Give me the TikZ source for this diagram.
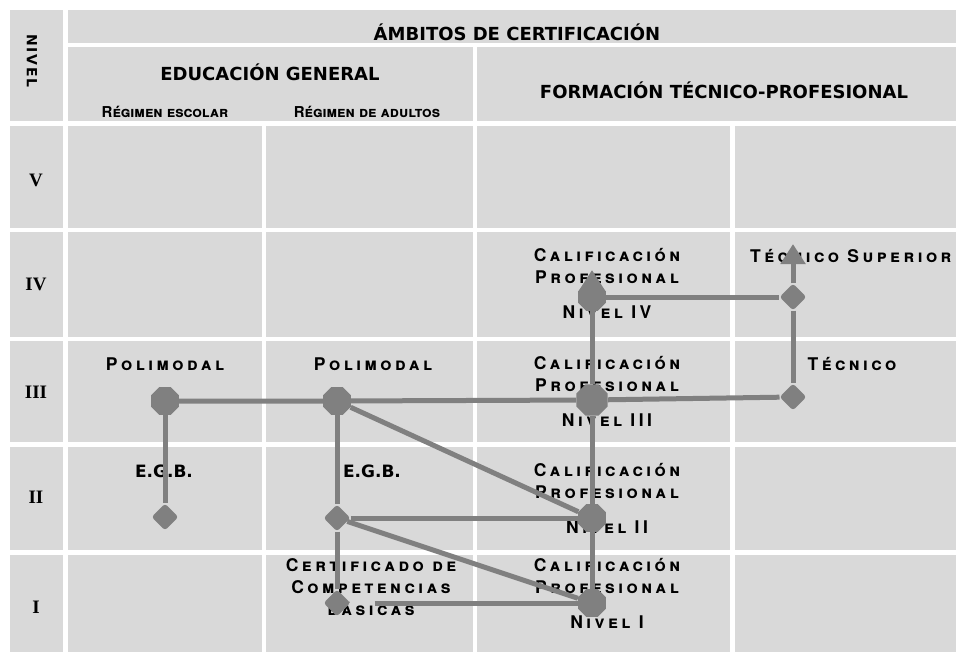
\documentclass[tikz,border=0pt]{standalone}
\usepackage{fontspec}
\setmainfont{TeX Gyre Heros}
\newfontfamily\headfont{DejaVu Sans}
\newfontfamily\levelfont{Liberation Serif}
\newfontfamily\capfont{TeX Gyre Heros}[LetterSpace=20]
\newfontfamily\capfontn{TeX Gyre Heros}
\newfontfamily\nivfont{DejaVu Sans}[LetterSpace=12]
\usepackage{tikz}
\usetikzlibrary{arrows.meta,positioning,shapes.geometric}
\definecolor{cellgray}{HTML}{D9D9D9}
\definecolor{linkgray}{HTML}{808080}
\tikzstyle{cell}=[fill=cellgray]
\tikzstyle{head}=[font=\headfont\bfseries\fontsize{18}{22}\selectfont, anchor=base, inner sep=0pt]
\tikzstyle{lvl}=[font=\levelfont\bfseries\fontsize{19}{22}\selectfont, anchor=base, inner sep=0pt]
\tikzstyle{sclbl}=[font=\capfont\bfseries\scshape\fontsize{17.5}{22}\selectfont, align=center, inner sep=0pt]
\tikzstyle{sub}=[font=\capfontn\bfseries\scshape\fontsize{15}{18}\selectfont, anchor=base, inner sep=0pt]
\tikzstyle{hub}=[regular polygon, regular polygon sides=8, fill=linkgray, inner sep=0pt, minimum size=30pt]
\tikzstyle{knot}=[diamond, fill=linkgray, inner sep=0pt, minimum size=27pt, rounded corners=3pt]
\tikzstyle{link}=[draw=linkgray, line width=5pt]
\tikzstyle{rise}=[link, -{Triangle[width=24pt,length=20pt]}]
\newcommand{\calif}[2]{node (#1)[sclbl, anchor=north]{Calificación\\Profesional\\[13pt]Nivel #2}}
\begin{document}
\begin{tikzpicture}[x=1pt,y=-1pt]
	\useasboundingbox (0,0) rectangle (956,651);
	
	% table cells
	\fill[cell] (10,10) rectangle (63,121);
	\fill[cell] (68,10) rectangle (960,43);
	\fill[cell] (68,47) rectangle (473,121);
	\fill[cell] (477,47) rectangle (960,121);
	\foreach \yt/\yb in {126/228, 232/337, 341/442, 447/550, 555/655}
	\foreach \xl/\xr in {10/63, 68/262, 266/473, 477/730, 735/960}
	\fill[cell] (\xl,\yt) rectangle (\xr,\yb);
	
	% headers
	\node (hdamb) [head] at (517,40) {ÁMBITOS DE CERTIFICACIÓN};
	\node (hdedu) [head] at (270,80) {EDUCACIÓN GENERAL};
	\node (hdfor) [head] at (724,98) {FORMACIÓN TÉCNICO-PROFESIONAL};
	\node (hdniv) [font=\nivfont\bfseries\fontsize{14}{16}\selectfont, rotate=-90] at (32,61) {NIVEL};
	\node (regesc) [sub] at (165,117) {Régimen escolar};
	\node (regadu) [sub] at (367,117) {Régimen de adultos};
	\foreach \r/\y in {V/186, IV/290, III/398, II/503, I/613}
	\node (lv\r) [lvl] at (36,\y) {\r};
	
	% labels in the cells
	\node (polesc) [sclbl, anchor=base] at (165,370) {Polimodal};
	\node (poladu) [sclbl, anchor=base] at (373,370) {Polimodal};
	\node (egbesc) [head, font=\headfont\bfseries\fontsize{17}{20}\selectfont] at (164,477) {E.G.B.};
	\node (egbadu) [head, font=\headfont\bfseries\fontsize{17}{20}\selectfont] at (372,477) {E.G.B.};
	\node (certlb) [sclbl, anchor=north] at (371,558) {Certificado de\\Competencias\\básicas};
	\path (607,248) \calif{cp4}{IV};
	\path (607,356) \calif{cp3}{III};
	\path (607,463) \calif{cp2}{II};
	\path (607,558) \calif{cp1}{I};
	\node (tecsup) [sclbl, anchor=base west] at (750,262) {Técnico Superior};
	\node (tecn) [sclbl, anchor=base] at (852,370) {Técnico};
	
	% path nodes
	\node (p1) [hub] at (165,401) {};
	\node (p2) [hub] at (337,401) {};
	\node (n3) [hub, minimum size=34pt] at (592,400) {};
	\node (n4) [hub] at (592,297) {};
	\node (n2) [hub] at (592,518) {};
	\node (n1) [hub] at (592,603) {};
	\node (e1) [knot] at (165,517) {};
	\node (e2) [knot] at (337,518) {};
	\node (cert) [knot] at (337,603) {};
	\node (ts) [knot] at (793,297) {};
	\node (tec) [knot] at (793,397) {};
	\coordinate (n4top) at (592,270);
	\coordinate (tstop) at (793,244);
	
	% connectors
	\path [link] (p1) -- (p2) -- (n3) -- (tec);
	\path [link] (p1) -- (e1);
	\path [link] (p2) -- (e2) -- (cert);
	\path [link] (p2) -- (n2);
	\path [link] (e2) -- (n2);
	\path [link] (e2) -- (n1);
	\path [link, shorten <=24pt] (cert) -- (n1);
	\path [link] (n1) -- (n2) -- (n3);
	\path [rise] (n3) -- (n4top);
	\path [link] (n4) -- (ts) -- (tec);
	\path [rise] (ts) -- (tstop);
	
\end{tikzpicture}
\end{document}
